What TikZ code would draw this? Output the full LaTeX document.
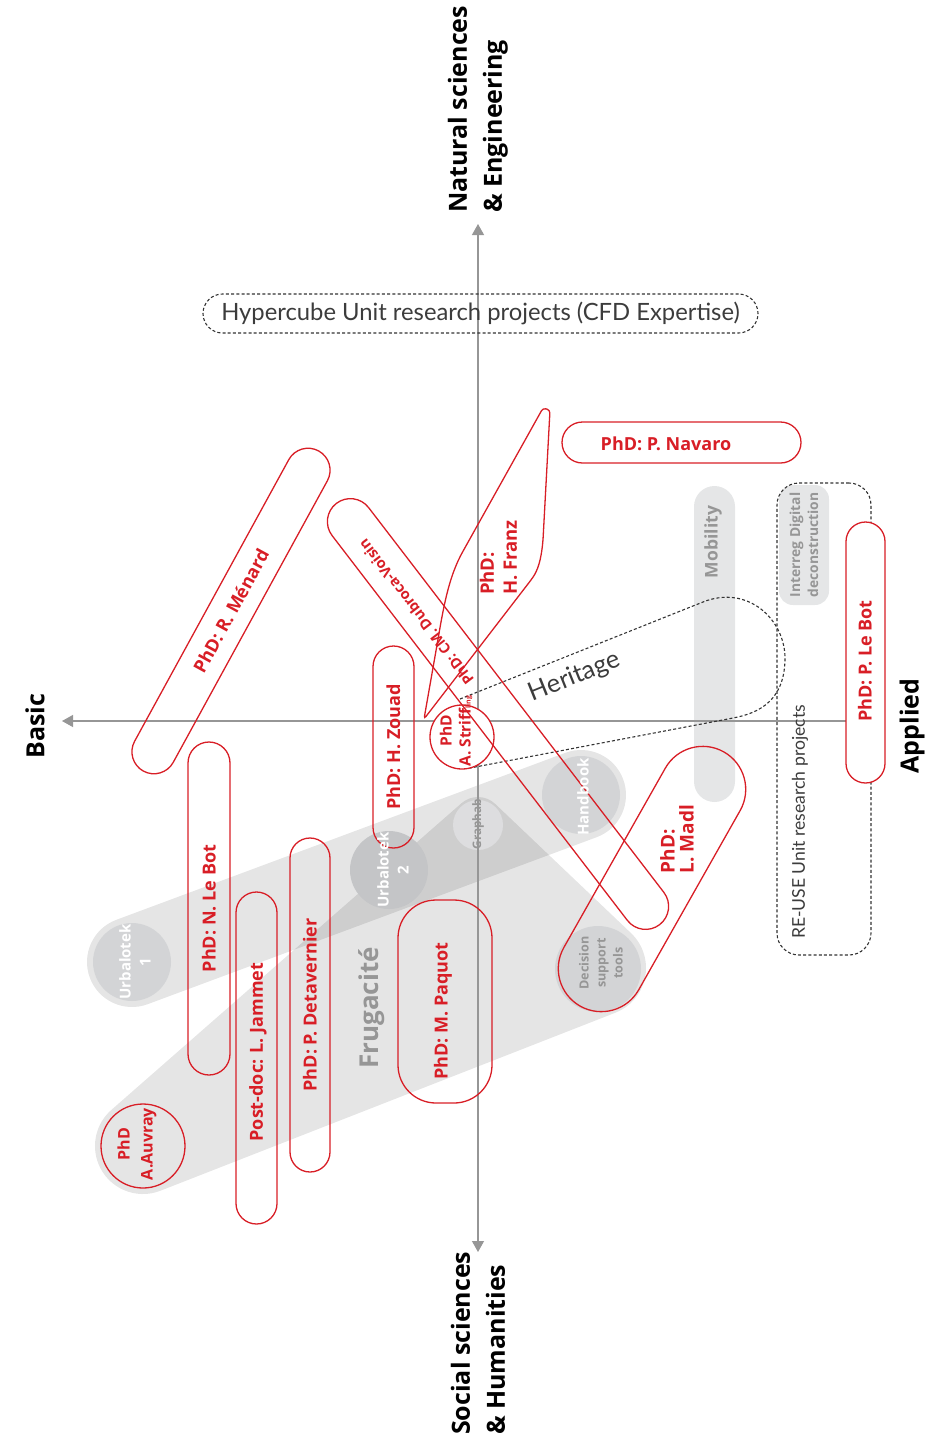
\documentclass[tikz,border=0pt]{standalone}
\usepackage{fontspec}
\setmainfont{Lato}
\newfontfamily\labelfont{Open Sans}
\usetikzlibrary{arrows.meta, positioning, calc}
\definecolor{reusered}{RGB}{216, 30, 38}
\definecolor{axisgrey}{RGB}{150, 150, 150}
\definecolor{labelgrey}{RGB}{150, 150, 150}
\definecolor{darktext}{RGB}{60, 60, 60}
\definecolor{bargrey}{RGB}{229, 230, 231}
\definecolor{hubgrey}{RGB}{211, 212, 214}
\definecolor{hubdark}{RGB}{196, 197, 199}
\definecolor{hublight}{RGB}{221, 221, 223}

\begin{document}
\begin{tikzpicture}[
		x=1pt, y=-1pt,
		pill/.style={draw=reusered, line width=1.3pt, rounded corners=#1, minimum height=2*#1, inner sep=0pt},
		redtext/.style={text=reusered, font=\labelfont\bfseries\fontsize{18}{20}\selectfont, align=left},
		ringnode/.style={circle, draw=reusered, line width=1.3pt, fill=white, inner sep=0pt},
		hub/.style={circle, fill=hubgrey, inner sep=0pt},
		hubtext/.style={text=white, font=\labelfont\bfseries\fontsize{15}{20}\selectfont, rotate=90, align=center},
		greytext/.style={text=labelgrey, font=\labelfont\bfseries\fontsize{12.6}{17}\selectfont, rotate=90, align=center},
		groupline/.style={draw=black!80, line width=1.1pt, dash pattern=on 3pt off 2.2pt},
		axis/.style={draw=axisgrey, line width=1.2pt},
		axislabel/.style={font=\labelfont\bfseries\fontsize{25}{35}\selectfont, rotate=90, align=left, inner sep=0pt}
	]
	\useasboundingbox (0,0) rectangle (939,1436);

	% 1. Grey backgrounds
	\coordinate (urb1c) at (132,962);
	\coordinate (handc) at (581,795);
	\fill[black, fill opacity=0.1] (160.5,1190.7) arc[start angle=291.4, end angle=131.2, radius=48pt]
		-- (461.5,803.2) arc[start angle=131.2, end angle=46.4, radius=25pt]
		-- (631.1,933.2) arc[start angle=46.4, end angle=-68.6, radius=48pt] -- cycle;
	\draw[black, draw opacity=0.1, line width=90pt, line cap=round] (urb1c) -- (handc);
	\node[hub, minimum size=78] (urb1) at (urb1c) {};
	\node[hub, minimum size=78] (handbook) at (handc) {};
	\node[hub, fill=hubdark, minimum size=78] (urb2) at (389,870) {};
	\node[hub, minimum size=86] (decision) at (598,969) {};
	\node[hub, fill=hublight, minimum size=50] (graphab) at (478,825) {};

	\node[fill=bargrey, rounded corners=20.5, minimum width=316, minimum height=41, rotate=90, inner sep=0pt] (mobility) at (714.5,644) {};
	\node[greytext, font=\labelfont\bfseries\fontsize{13.8}{18}\selectfont, fill=bargrey, rounded corners=14, minimum width=120, minimum height=50, inner sep=0pt] (interreg) at (804,545) {Interreg Digital\\deconstruction};

	% 2. Axes
	\coordinate (natural) at (478,224);
	\coordinate (social) at (478,1252);
	\coordinate (basic) at (62,721);
	\coordinate (applied) at (865,721);
	\draw[axis, {Triangle[length=11pt,width=12pt]}-{Triangle[length=11pt,width=12pt]}] (social) -- (natural);
	\draw[axis, -{Triangle[length=11pt,width=12pt]}] (applied) -- (basic);
	\node[axislabel, anchor=west] (naturallbl) at (478,213) {Natural sciences\\\& Engineering};
	\node[axislabel, anchor=west] (sociallbl) at (478,1435) {Social sciences\\\& Humanities};
	\node[axislabel] (basiclbl) at (35,726) {Basic};
	\node[axislabel] (appliedlbl) at (912,726) {Applied};

	% 3. Research units and themes
	\node[groupline, rounded corners=19.5, minimum width=555, minimum height=39, text=darktext, font=\fontsize{23.8}{27}\selectfont] (hypercube) at (480.5,313.5) {Hypercube Unit research projects (CFD Expertise)};
	\node[groupline, rounded corners=22, minimum width=94, minimum height=472] (reuse) at (824,719) {};
	\node[rotate=90, text=darktext, font=\fontsize{17.6}{20}\selectfont] (reuselbl) at (800,822) {RE-USE Unit research projects};
	\node[greytext, font=\labelfont\bfseries\fontsize{17.5}{20}\selectfont] (mobilitylbl) at (713,542) {Mobility};
	\draw[groupline] (460,699) -- (703,602) .. controls (748,584) and (786,620) .. (785,660)
		.. controls (784,700) and (760,713) .. (733,718) -- (470,768);
	\node[rotate=22, text=darktext, font=\fontsize{25.5}{28}\selectfont] (heritage) at (575,677) {Heritage};

	% 4. PhD and post-doc projects
	\node[pill=22, minimum width=365, rotate=61.3, redtext] (menard) at (231,611) {PhD: R. Ménard};
	\node[ringnode, minimum size=64] (striffling) at (462,737) {};
	\node[redtext, rotate=90, align=center, font=\labelfont\bfseries\fontsize{15.5}{19}\selectfont] (strifflbl) at (456,731) {PhD\\A. Striff{\fontsize{7}{8}\selectfont ling}};
	\node[pill=23, minimum width=531, rotate=127.5] (dubroca) at (498,714) {};
	\node[redtext, rotate=127.5, font=\labelfont\bfseries\fontsize{14.6}{17}\selectfont] (dubrocalbl) at (416,612) {PhD: CM. Dubroca-Voisin};
	\draw[draw=reusered, line width=1.3pt, rounded corners=3] (424,719) -- (437,645) .. controls (443,610) and (448,580) .. (462,553)
		-- (543,408) -- (550,410) -- (543,540) .. controls (541,560) and (538,570) .. (531,580) -- cycle;
	\node[redtext, rotate=90, font=\labelfont\bfseries\fontsize{18.5}{23}\selectfont] (franzlbl) at (498.5,557.5) {PhD:\\H. Franz};
	\node[pill=20.5, minimum width=239] (navaro) at (681.5,442.5) {};
	\node[redtext] (navarolbl) at (666,444) {PhD: P. Navaro};
	\node[pill=20.5, minimum width=202, rotate=90, redtext] (zouad) at (393.5,747) {PhD: H. Zouad};
	\node[pill=21, minimum width=333, rotate=90, redtext] (nlebot) at (209,908.5) {PhD: N. Le Bot};
	\node[pill=20.5, minimum width=332, rotate=90] (jammet) at (256.5,1058) {};
	\node[redtext, rotate=90] (jammetlbl) at (258,1052) {Post-doc: L. Jammet};
	\node[pill=20, minimum width=334, rotate=90, redtext] (detavernier) at (310,1005) {PhD: P. Detavernier};
	\node[pill=38, minimum height=94, minimum width=203, rotate=90] (paquot) at (445,1001.5) {};
	\node[redtext, rotate=90] (paquotlbl) at (443,1011) {PhD: M. Paquot};
	\node[ringnode, fill=none, minimum size=84] (auvray) at (143,1146) {};
	\node[redtext, rotate=90, align=center, font=\labelfont\bfseries\fontsize{16}{23}\selectfont] (auvraylbl) at (137,1144) {PhD\\A.Auvray};
	\node[pill=43, minimum width=292, rotate=60.5] (madl) at (652,879) {};
	\node[redtext, rotate=90, font=\labelfont\bfseries\fontsize{19}{19}\selectfont] (madllbl) at (677,839) {PhD:\\L. Madl};
	\node[pill=19.5, minimum width=261, rotate=90, fill=white] (plebot) at (865.5,652.5) {};
	\node[redtext, rotate=90] (plebotlbl) at (865,661) {PhD: P. Le Bot};

	% 5. Tools and platforms
	\node[hubtext] (urb1lbl) at (135,962) {Urbalotek\\1};
	\node[hubtext] (urb2lbl) at (393,870) {Urbalotek\\2};
	\node[hubtext] (handbooklbl) at (583,797) {Handbook};
	\node[greytext, font=\labelfont\bfseries\fontsize{11.7}{12}\selectfont] (graphablbl) at (478,824) {Graphab};
	\node[greytext] (decisionlbl) at (601,963) {Decision\\support\\tools};
	\node[greytext, font=\labelfont\bfseries\fontsize{26}{30}\selectfont] (frugalbl) at (372,1008) {Frugacité};
\end{tikzpicture}
\end{document}
